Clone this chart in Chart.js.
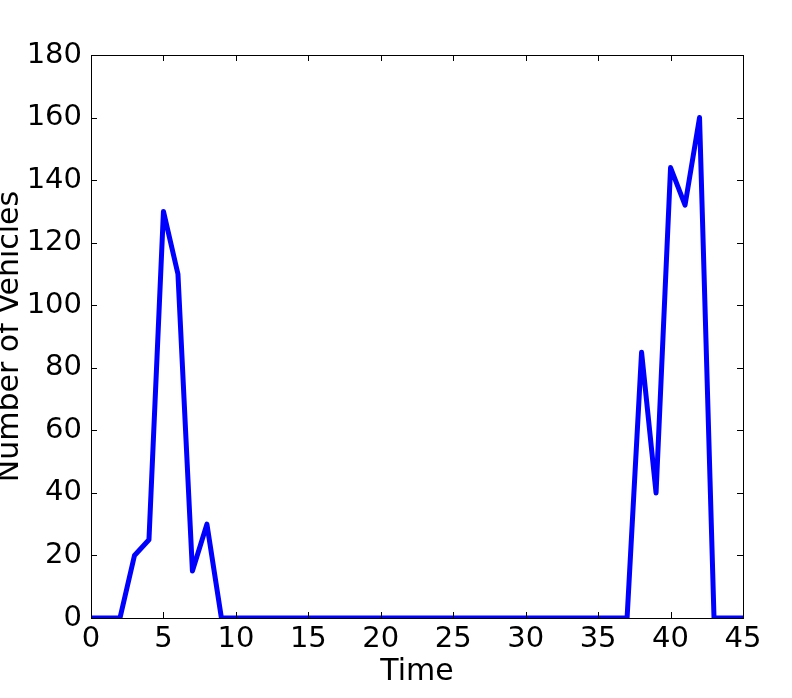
<!DOCTYPE html>
<html>
<head>
<meta charset="utf-8">
<script src="https://cdn.jsdelivr.net/npm/chart.js@4/dist/chart.umd.min.js"></script>
<style>
  html, body { margin: 0; padding: 0; background: #fff; }
  #wrap { width: 792px; height: 698px; }
</style>
</head>
<body>
<div id="wrap"><canvas id="vehicles"></canvas></div>
<script>
const times = [0, 1, 2, 3, 4, 5, 6, 7, 8, 9, 10, 11, 12, 13, 14, 15, 16, 17, 18, 19, 20, 21, 22,
	23, 24, 25, 26, 27, 28, 29, 30, 31, 32, 33, 34, 35, 36, 37, 38, 39, 40, 41, 42, 43, 44, 45];
const vehicles = [0, 0, 0, 20, 25, 130, 110, 15, 30, 0, 0, 0, 0, 0, 0, 0, 0, 0, 0, 0, 0, 0, 0,
	0, 0, 0, 0, 0, 0, 0, 0, 0, 0, 0, 0, 0, 0, 0, 85, 40, 144, 132, 160, 0, 0, 0];
const xTicks = [0, 5, 10, 15, 20, 25, 30, 35, 40, 45];
const yTicks = [0, 20, 40, 60, 80, 100, 120, 140, 160, 180];

const tickFont = { family: "'DejaVu Sans', sans-serif", size: 29 };
const titleFont = { family: "'DejaVu Sans', sans-serif", size: 30 };

// matplotlib-like frame with inward ticks on all four sides
const framePlugin = {
	id: 'frame',
	afterDatasetsDraw(chart) {
		const ctx = chart.ctx;
		const a = chart.chartArea;
		const x = chart.scales.x;
		const y = chart.scales.y;
		const len = 6;
		ctx.save();
		ctx.strokeStyle = '#000';
		ctx.lineWidth = 1;
		ctx.beginPath();
		xTicks.forEach(v => {
			const px = Math.round(x.getPixelForValue(v)) + 0.5;
			ctx.moveTo(px, a.bottom); ctx.lineTo(px, a.bottom - len);
			ctx.moveTo(px, a.top); ctx.lineTo(px, a.top + len);
		});
		yTicks.forEach(v => {
			const py = Math.round(y.getPixelForValue(v)) + 0.5;
			ctx.moveTo(a.left, py); ctx.lineTo(a.left + len, py);
			ctx.moveTo(a.right, py); ctx.lineTo(a.right - len, py);
		});
		ctx.stroke();
		ctx.strokeRect(Math.round(a.left) + 0.5, Math.round(a.top) + 0.5,
			Math.round(a.right - a.left), Math.round(a.bottom - a.top));
		ctx.restore();
	}
};

new Chart(document.getElementById('vehicles'), {
	type: 'line',
	data: {
		datasets: [{
			data: times.map((t, i) => ({ x: t, y: vehicles[i] })),
			borderColor: '#0000ff',
			borderWidth: 5,
			borderJoinStyle: 'round',
			pointRadius: 0,
			tension: 0,
			clip: 0
		}]
	},
	options: {
		responsive: true,
		maintainAspectRatio: false,
		animation: false,
		layout: { padding: { top: 55, right: 49, left: 0, bottom: 0 } },
		plugins: { legend: { display: false }, tooltip: { enabled: false } },
		scales: {
			x: {
				type: 'linear',
				min: 0,
				max: 45,
				afterBuildTicks: s => { s.ticks = xTicks.map(v => ({ value: v })); },
				afterFit: s => { s.height = 80; },
				grid: { display: false, drawTicks: false },
				border: { display: false },
				ticks: { color: '#000', font: tickFont, padding: 4, maxRotation: 0 },
				title: { display: true, text: 'Time', color: '#000', font: titleFont, padding: { top: 0, bottom: 8 } }
			},
			y: {
				type: 'linear',
				min: 0,
				max: 180,
				afterBuildTicks: s => { s.ticks = yTicks.map(v => ({ value: v })); },
				afterFit: s => { s.width = 91; },
				grid: { display: false, drawTicks: false },
				border: { display: false },
				ticks: { color: '#000', font: tickFont, padding: 9 },
				title: { display: true, text: 'Number of Vehicles', color: '#000', font: titleFont, padding: { top: -8, bottom: 0 } }
			}
		}
	},
	plugins: [framePlugin]
});
</script>
</body>
</html>
